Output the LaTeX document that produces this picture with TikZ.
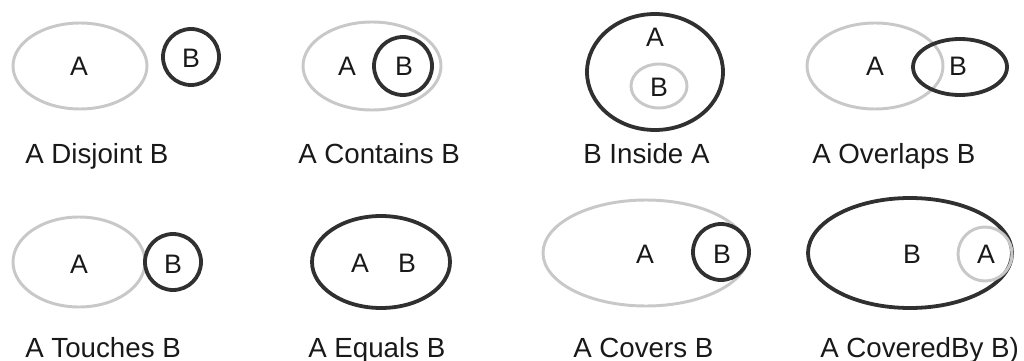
\documentclass[tikz,border=0pt]{standalone}
\usepackage{xcolor}
\usepackage{fontspec}
\setmainfont{Liberation Sans}
\usepackage{tikz}
\definecolor{ringlight}{RGB}{200,200,200}
\definecolor{ringdark}{RGB}{48,48,48}
\definecolor{inkgray}{RGB}{25,25,25}

\begin{document}
\begin{tikzpicture}[x=0.025cm, y=-0.025cm,
    lightring/.style={draw=ringlight, line width=2.1pt},
    darkring/.style={draw=ringdark, line width=2.7pt},
    setname/.style={anchor=base, inner sep=0pt, text=inkgray, font=\fontsize{19}{22}\selectfont},
    caption/.style={anchor=base west, inner sep=0pt, text=inkgray, font=\fontsize{19.7}{23}\selectfont}]
        \useasboundingbox (0,0) rectangle (1024,361);
        % first row
        \draw[lightring] (80,66) ellipse [x radius=67, y radius=43];
        \draw[darkring] (191,57) circle [radius=28];
        \node[setname] (disjA) at (79,76) {A};
        \node[setname] (disjB) at (191,68) {B};
        \node[caption] (disjCap) at (25,163) {A Disjoint B};

        \draw[lightring] (372,66) ellipse [x radius=69, y radius=44];
        \draw[darkring] (403,66) circle [radius=29];
        \node[setname] (contA) at (347,76) {A};
        \node[setname] (contB) at (404,76) {B};
        \node[caption] (contCap) at (298,163) {A Contains B};

        \draw[darkring] (655,72) ellipse [x radius=68, y radius=58];
        \draw[lightring] (659,86) ellipse [x radius=28, y radius=22];
        \node[setname] (insA) at (655,47) {A};
        \node[setname] (insB) at (659,96) {B};
        \node[caption] (insCap) at (583,163) {B Inside A};

        \draw[lightring] (875,66) ellipse [x radius=68, y radius=43];
        \draw[darkring] (960,67) ellipse [x radius=47, y radius=28];
        \node[setname] (ovlA) at (875,76) {A};
        \node[setname] (ovlB) at (958,76) {B};
        \node[caption] (ovlCap) at (812,163) {A Overlaps B};

        % second row
        \draw[lightring] (79,262) ellipse [x radius=66, y radius=45];
        \draw[darkring] (173,262) circle [radius=28];
        \node[setname] (touA) at (79,273) {A};
        \node[setname] (touB) at (173,273) {B};
        \node[caption] (touCap) at (25,357) {A Touches B};

        \draw[darkring] (381,262) ellipse [x radius=69, y radius=46];
        \node[setname] (eqA) at (360,272) {A};
        \node[setname] (eqB) at (407,272) {B};
        \node[caption] (eqCap) at (308,357) {A Equals B};

        \draw[lightring] (646,253) ellipse [x radius=103, y radius=53];
        \draw[darkring] (721,252) circle [radius=28];
        \node[setname] (covA) at (645,263) {A};
        \node[setname] (covB) at (722,263) {B};
        \node[caption] (covCap) at (573,357) {A Covers B};

        \draw[darkring] (910,253) ellipse [x radius=102, y radius=55];
        \draw[lightring] (985,254) circle [radius=27];
        \node[setname] (cbyB) at (912,263) {B};
        \node[setname] (cbyA) at (986,263) {A};
        \node[caption] (cbyCap) at (820,357) {A CoveredBy B)};
      \end{tikzpicture}
\end{document}
